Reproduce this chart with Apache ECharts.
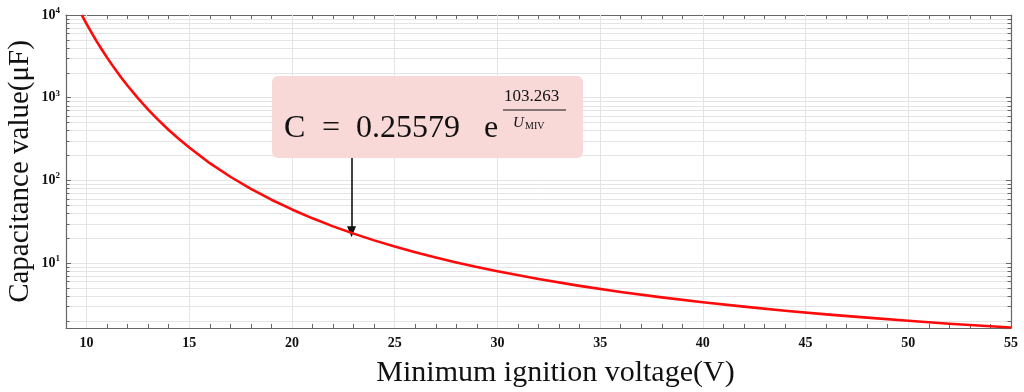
<!DOCTYPE html>
<html>
<head>
<meta charset="utf-8">
<script src="https://cdn.jsdelivr.net/npm/echarts@6/dist/echarts.min.js"></script>
<style>
html,body{margin:0;padding:0;background:#fff;}
#chart{width:1024px;height:392px;}
</style>
</head>
<body>
<div id="chart"></div>
<script>
// ---- data ----
const voltage = [9.77, 10, 10.25, 10.5, 10.75, 11, 11.25, 11.5, 11.75, 12, 12.5, 13, 13.5, 14, 14.5, 15, 16, 17, 18, 19, 20, 21, 22, 23, 24, 25, 26, 27, 28, 29, 30, 32, 34, 36, 38, 40, 42, 44, 46, 48, 50, 52, 54, 55];
const capacitance = [9960, 7808, 6069, 4776, 3799, 3054, 2479, 2030, 1677, 1397, 990, 720, 537, 408, 317, 250, 162, 111, 79.3, 58.6, 44.7, 34.9, 27.9, 22.8, 18.9, 15.9, 13.6, 11.7, 10.2, 9.0, 7.99, 6.45, 5.33, 4.50, 3.87, 3.38, 2.99, 2.67, 2.41, 2.20, 2.02, 1.86, 1.73, 1.672];
const xTickValues = [10, 15, 20, 25, 30, 35, 40, 45, 50, 55];
const yDecades = [10, 100, 1000, 10000];
const yMinorValues = [2,3,4,5,6,7,8,9,20,30,40,50,60,70,80,90,200,300,400,500,600,700,800,900,2000,3000,4000,5000,6000,7000,8000,9000];
const xLabel = 'Minimum ignition voltage(V)';
const yLabel = 'Capacitance value(μF)';
const arrowPointer = [22.9, 24];
const arrowStart = [22.9, 190];

const X_MIN = 9, X_MAX = 55, Y_MIN = 1.65, Y_MAX = 10000;
const serif = '"Liberation Serif", "DejaVu Serif", serif';
const axisColor = '#666';
const gridColor = '#e4e4e4';

const chart = echarts.init(document.getElementById('chart'), null, {renderer: 'canvas'});

function yFmt(v) {
  const e = Math.round(Math.log10(v));
  if (Math.abs(Math.pow(10, e) - v) > 1e-6 * v) return '';
  return '{b|10}{s|' + e + '}';
}

// minor tick segments on left/right
const minorTickLines = [];
yMinorValues.forEach(v => {
  minorTickLines.push([{coord: [X_MIN, v]}, {coord: [X_MIN + 0.17, v]}]);
  minorTickLines.push([{coord: [X_MAX - 0.17, v]}, {coord: [X_MAX, v]}]);
});
const gridLines = [];
yMinorValues.forEach(v => gridLines.push({yAxis: v}));
xTickValues.filter(v => v > X_MIN && v < X_MAX).forEach(v => gridLines.push({xAxis: v}));

const option = {
  animation: false,
  backgroundColor: '#fff',
  grid: {left: 66, right: 13, top: 15, bottom: 64, containLabel: false, outerBoundsMode: 'none'},
  xAxis: [{
    type: 'value', min: X_MIN, max: X_MAX, interval: 1,
    name: xLabel, nameLocation: 'middle', nameGap: 30,
    nameTextStyle: {fontFamily: serif, fontSize: 30, color: '#111', padding: [0, 0, 0, 34]},
    axisLine: {show: true, onZero: false, lineStyle: {color: axisColor, width: 1.2}},
    axisTick: {show: true, inside: true, length: 4, lineStyle: {color: axisColor}},
    axisLabel: {
      fontFamily: serif, fontSize: 14, fontWeight: 'bold', color: '#111', margin: 8,
      formatter: v => (xTickValues.indexOf(v) >= 0 ? String(v) : '')
    },
    splitLine: {show: false}
  }, {
    type: 'value', min: X_MIN, max: X_MAX, interval: 1, position: 'top',
    axisLine: {show: true, onZero: false, lineStyle: {color: axisColor, width: 1.2}},
    axisTick: {show: true, inside: true, length: 4, lineStyle: {color: axisColor}},
    axisLabel: {show: false}, splitLine: {show: false}
  }],
  yAxis: [{
    type: 'log', logBase: 10, min: Y_MIN, max: Y_MAX,
    name: yLabel, nameLocation: 'middle', nameGap: 31, nameMoveOverlap: false,
    nameTextStyle: {fontFamily: serif, fontSize: 29, color: '#111', padding: [0, 0, 0, 0]},
    axisLine: {show: true, onZero: false, lineStyle: {color: axisColor, width: 1.2}},
    axisTick: {show: true, inside: true, length: 5, lineStyle: {color: axisColor}},
    axisLabel: {
      margin: 6, formatter: yFmt,
      rich: {
        b: {fontFamily: serif, fontSize: 14, fontWeight: 'bold', color: '#111'},
        s: {fontFamily: serif, fontSize: 9, fontWeight: 'bold', color: '#111', verticalAlign: 'bottom', padding: [0, 0, 9, 0]}
      }
    },
    splitLine: {show: true, lineStyle: {color: gridColor, width: 1}}
  }, {
    type: 'log', logBase: 10, min: Y_MIN, max: Y_MAX, position: 'right',
    axisLine: {show: true, onZero: false, lineStyle: {color: axisColor, width: 1.2}},
    axisTick: {show: true, inside: true, length: 5, lineStyle: {color: axisColor}},
    axisLabel: {show: false}, splitLine: {show: false}
  }],
  series: [{
    type: 'line', name: 'grid', data: [], silent: true,
    markLine: {
      silent: true, symbol: 'none', animation: false,
      label: {show: false},
      lineStyle: {color: gridColor, width: 1, type: 'solid'},
      data: gridLines
    }
  }, {
    type: 'line', name: 'minorTicks', data: [], silent: true,
    markLine: {
      silent: true, symbol: 'none', animation: false,
      label: {show: false},
      lineStyle: {color: axisColor, width: 1, type: 'solid'},
      data: minorTickLines
    }
  }, {
    type: 'line', name: 'C',
    data: voltage.map((x, i) => [x, capacitance[i]]),
    showSymbol: false, smooth: false,
    lineStyle: {color: '#ff0a0a', width: 2.6, join: 'round'},
    clip: true,
    z: 5
  }, {
    type: 'line', name: 'arrow', data: [], silent: true,
    markLine: {
      silent: true, animation: false,
      symbol: ['none', 'triangle'], symbolSize: [9, 11],
      label: {show: false},
      lineStyle: {color: '#111', width: 1.6, type: 'solid'},
      data: [[{coord: arrowStart}, {coord: arrowPointer}]]
    },
    z: 6
  }],
  graphic: [{
    type: 'rect', left: 272, top: 76, z: 10,
    shape: {width: 311, height: 82, r: 6},
    style: {fill: '#f9d9d8', stroke: null}
  }, {
    type: 'text', left: 284, top: 113, z: 11,
    style: {text: 'C', fontFamily: serif, fontSize: 32, fill: '#111'}
  }, {
    type: 'text', left: 322, top: 113, z: 11,
    style: {text: '=', fontFamily: serif, fontSize: 32, fill: '#111'}
  }, {
    type: 'text', left: 356, top: 113, z: 11,
    style: {text: '0.25579', fontFamily: serif, fontSize: 32, fill: '#111'}
  }, {
    type: 'text', left: 484, top: 113, z: 11,
    style: {text: 'e', fontFamily: serif, fontSize: 32, fill: '#111'}
  }, {
    type: 'text', left: 504, top: 88, z: 11,
    style: {text: '103.263', fontFamily: serif, fontSize: 17, fill: '#111'}
  }, {
    type: 'line', z: 11,
    shape: {x1: 503, y1: 110, x2: 566, y2: 110},
    style: {stroke: '#111', lineWidth: 1}
  }, {
    type: 'text', left: 513, top: 116, z: 11,
    style: {text: 'U', fontFamily: serif, fontSize: 15, fontStyle: 'italic', fill: '#111'}
  }, {
    type: 'text', left: 525, top: 121, z: 11,
    style: {text: 'MIV', fontFamily: serif, fontSize: 10, fill: '#111'}
  }]
};

chart.setOption(option);
</script>
</body>
</html>
